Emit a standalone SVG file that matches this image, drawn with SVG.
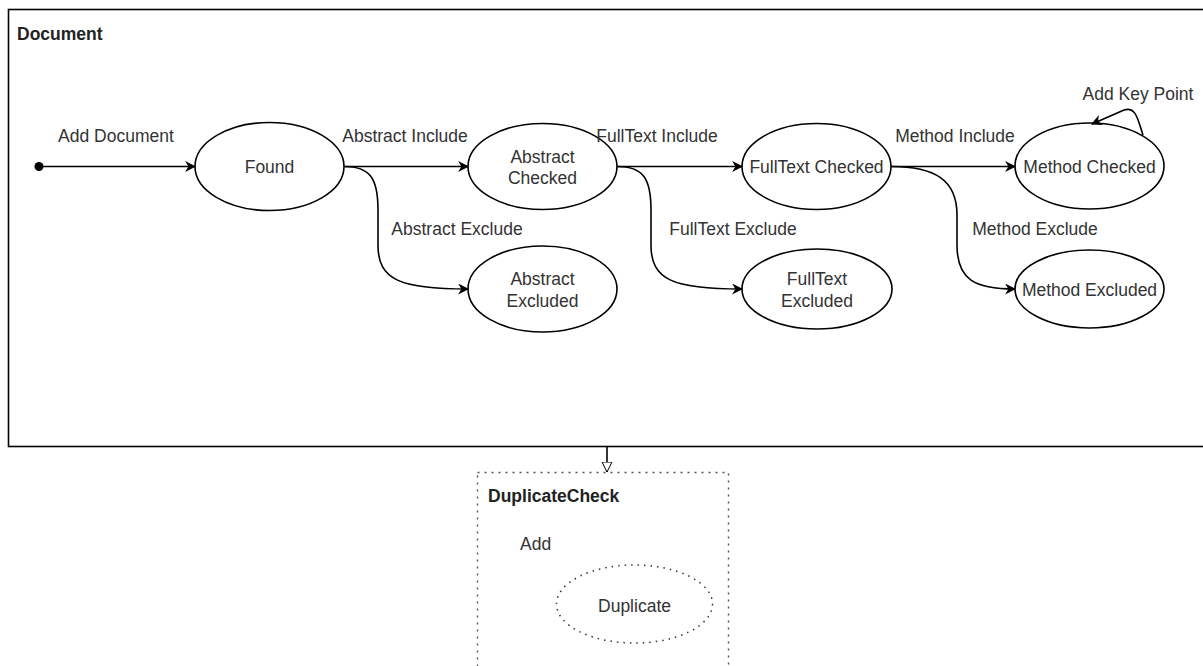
<svg xmlns="http://www.w3.org/2000/svg" width="1203" height="666" viewBox="0 0 1203 666">
<defs>
<marker id="arr" viewBox="0 0 10 10" refX="9" refY="5" markerWidth="11" markerHeight="11" markerUnits="userSpaceOnUse" orient="auto">
<path d="M0,0 L10,5 L0,10 L3,5 Z" fill="#000"/>
</marker>
<marker id="open" viewBox="0 0 10 12" refX="10" refY="6" markerWidth="11" markerHeight="12" markerUnits="userSpaceOnUse" orient="auto">
<path d="M0,1 L10,6 L0,11 Z" fill="#fff" stroke="#000" stroke-width="1"/>
</marker>
</defs>
<style>
text{font-family:"Liberation Sans",Arial,sans-serif;font-size:17.5px;fill:#333}
.t{text-anchor:middle}
.b{font-weight:bold;fill:#222}
.st{fill:#fff;stroke:#000;stroke-width:1.6}
.dot{fill:#fff;stroke:#333;stroke-width:1.5;stroke-dasharray:1.5 5}
.e{fill:none;stroke:#000;stroke-width:1.6}
</style>
<rect width="1203" height="666" fill="#fff"/>
<g id="document">
<rect x="8.5" y="9.5" width="1200" height="437" fill="#fff" stroke="#000" stroke-width="1.6"/>
<text x="17" y="40" class="b">Document</text>
</g>
<g id="duplicatecheck">
<rect x="477.5" y="472.5" width="251" height="210" fill="none" stroke="#555" stroke-width="1.4" stroke-dasharray="2 5"/>
<text x="488" y="502" class="b">DuplicateCheck</text>
<text x="520" y="550">Add</text>
</g>
<g id="initial"><circle cx="39" cy="166.5" r="4.5" fill="#000"/></g>
<g id="found"><ellipse class="st" cx="269.5" cy="166.5" rx="74.5" ry="44"/><text class="t" x="269.5" y="173">Found</text></g>
<g id="abstract-checked"><ellipse class="st" cx="542.5" cy="166.5" rx="74.5" ry="43"/><text class="t" x="542.5" y="163">Abstract</text><text class="t" x="542.5" y="184">Checked</text></g>
<g id="abstract-excluded"><ellipse class="st" cx="542.5" cy="289" rx="74.5" ry="43"/><text class="t" x="542.5" y="285">Abstract</text><text class="t" x="542.5" y="307">Excluded</text></g>
<g id="fulltext-checked"><ellipse class="st" cx="816.5" cy="166.5" rx="74.5" ry="43"/><text class="t" x="816.5" y="173">FullText Checked</text></g>
<g id="fulltext-excluded"><ellipse class="st" cx="817" cy="289" rx="75" ry="40"/><text class="t" x="817" y="285">FullText</text><text class="t" x="817" y="307">Excluded</text></g>
<g id="method-checked"><ellipse class="st" cx="1089.5" cy="166" rx="74.5" ry="43"/><text class="t" x="1089.5" y="172.5">Method Checked</text></g>
<g id="method-excluded"><ellipse class="st" cx="1089.5" cy="289" rx="74.5" ry="39"/><text class="t" x="1089.5" y="295.5">Method Excluded</text></g>
<g id="duplicate"><ellipse class="dot" cx="634.5" cy="604" rx="78" ry="39"/><text class="t" x="634.5" y="612">Duplicate</text></g>
<g id="connectors">
<path class="e" d="M43,166.5 H195" marker-end="url(#arr)"/>
<path class="e" d="M344,166.5 H468" marker-end="url(#arr)"/>
<path class="e" d="M344,166.5 C370,166.5 378,178 378,210 L378,245 C378,280 400,289 468,289" marker-end="url(#arr)"/>
<path class="e" d="M617,166.5 H742" marker-end="url(#arr)"/>
<path class="e" d="M617,166.5 C643,166.5 651,178 651,210 L651,245 C651,280 673,289 742,289" marker-end="url(#arr)"/>
<path class="e" d="M891,166.5 H1015" marker-end="url(#arr)"/>
<path class="e" d="M891,166.5 C935,166.5 957,180 957,215 L957,245 C957,280 975,289 1015,289" marker-end="url(#arr)"/>
<path class="e" d="M1143,135 C1138,120 1136,106 1124,110 L1092,124" marker-end="url(#arr)"/>
<path class="e" d="M607,447 V472" marker-end="url(#open)"/>
<text class="t" x="116" y="142">Add Document</text>
<text class="t" x="405" y="142">Abstract Include</text>
<text class="t" x="457" y="235">Abstract Exclude</text>
<text class="t" x="657" y="142">FullText Include</text>
<text class="t" x="733" y="235">FullText Exclude</text>
<text class="t" x="955" y="142">Method Include</text>
<text class="t" x="1035" y="235">Method Exclude</text>
<text class="t" x="1138" y="100">Add Key Point</text>
</g>
</svg>
